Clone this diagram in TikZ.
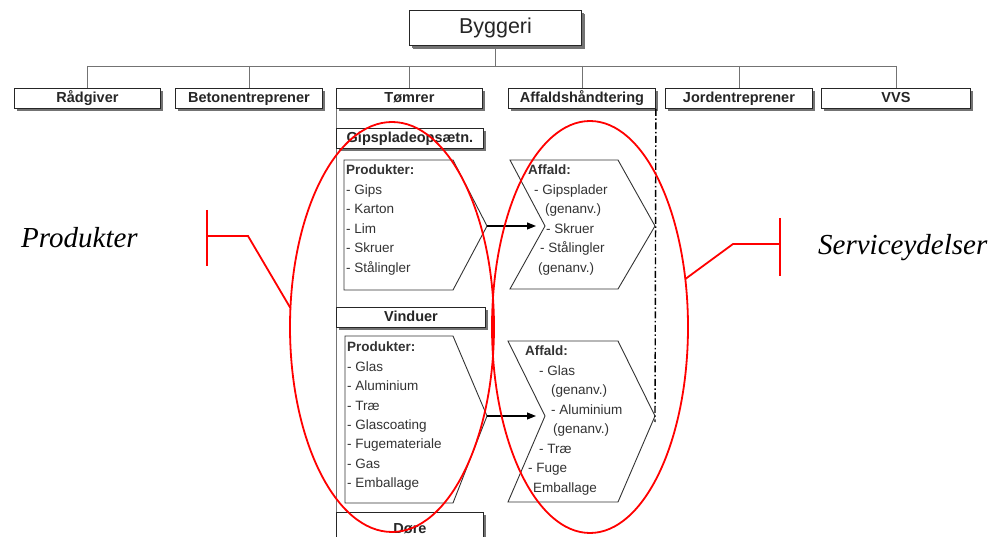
\documentclass[tikz,border=0pt]{standalone}
\usepackage{fontspec}
\setmainfont{Liberation Sans}
\newfontfamily\tagfont{Liberation Serif}
\usetikzlibrary{arrows.meta,shadows}

\begin{document}
\begin{tikzpicture}[x=1pt,y=-1pt,
  unit/.style={draw=black!85, line width=0.9pt, fill=white, inner sep=0pt,
    minimum height=20pt, anchor=north west, text height=11pt, text depth=3pt,
    font=\fontsize{14.5}{16}\selectfont\bfseries, text=black!85,
    drop shadow={shadow xshift=2.5pt, shadow yshift=-2.5pt, fill=black!55, opacity=1}},
  tree/.style={draw=black!55, line width=0.9pt},
  chev/.style={draw=black!80, line width=0.9pt},
  item/.style={anchor=base west, inner sep=0pt, text=black!80,
    font=\fontsize{13.5}{16}\selectfont},
  head/.style={item, font=\fontsize{13.5}{16}\selectfont\bfseries},
  flow/.style={draw=black, line width=1.1pt, -{Triangle[length=9pt,width=7pt]}},
  dashdot/.style={draw=black, line width=1.4pt,
    dash pattern=on 7pt off 2.5pt on 1.5pt off 2.5pt},
  ring/.style={draw=red, line width=1.8pt},
  redline/.style={draw=red, line width=1.8pt},
  tag/.style={anchor=base west, inner sep=0pt,
    font=\tagfont\itshape\fontsize{29}{32}\selectfont}]

\useasboundingbox (0,0) rectangle (997,537);
\fill[white] (0,0) rectangle (997,537);
\clip (0,0) rectangle (997,537);

% top of the hierarchy
\node[unit, minimum width=172pt, minimum height=35pt, text height=16pt, text depth=5pt,
  font=\fontsize{21.5}{24}\selectfont,
  drop shadow={shadow xshift=3.5pt, shadow yshift=-3.5pt, fill=black!55, opacity=1}]
  (byggeri) at (409,10) {Byggeri};

% second level
\node[unit, minimum width=146pt] (raad)    at (14,88)  {Rådgiver};
\node[unit, minimum width=147pt] (beton)   at (175,88) {Betonentreprener};
\node[unit, minimum width=146pt] (toemrer) at (336,88) {Tømrer};
\node[unit, minimum width=147pt] (affald)  at (508,88) {Affaldshåndtering};
\node[unit, minimum width=147pt] (jord)    at (665,88) {Jordentreprener};
\node[unit, minimum width=149pt] (vvs)     at (821,88) {VVS};

% tree connectors
\coordinate (bus) at (0,66);
\coordinate (bottom) at (0,545);
\draw[tree] (byggeri.south) -- (byggeri.south |- bus);
\draw[tree] (raad.north |- bus) -- (vvs.north |- bus);
\foreach \n in {raad,beton,toemrer,affald,jord,vvs}
  \draw[tree] (\n.north |- bus) -- (\n.north);
\draw[tree] (toemrer.south west) -- (toemrer.south west |- bottom);

% sub-units under Tømrer
\node[unit, minimum width=147pt] (gips)    at (336,128) {Gipspladeopsætn.};
\node[unit, minimum width=149pt] (vinduer) at (336,307) {Vinduer};
\node[unit, minimum width=147pt, minimum height=34pt] (doere) at (336,512) {Døre};

% products, plasterboard
\draw[chev] (344,160) coordinate (p1nw) -- (453,160) -- (487,226) coordinate (p1tip)
  -- (453,290) -- (344,290) -- cycle;
\node[head] (p1head) at (346,175) {Produkter:};
\foreach \t [count=\i] in {- Gips, - Karton, - Lim, - Skruer, - Stålingler}
  \node[item, name=p1l\i] at (346, 175+19.5*\i) {\t};

% waste, plasterboard
\draw[chev] (510,160) -- (618,160) -- (655,226) coordinate (a1tip)
  -- (618,289) -- (510,289) -- (545,226) coordinate (a1notch) -- cycle;
\node[head] (a1head) at (528,175) {Affald:};
\foreach \x/\t [count=\i] in {534/- Gipsplader, 545/{(genanv.)}, 546/- Skruer,
    540/- Stålingler, 538/{(genanv.)}}
  \node[item, name=a1l\i] at (\x, 175+19.5*\i) {\t};

% products, windows
\draw[chev] (345,336) coordinate (p2nw) -- (453,336) -- (487,416) coordinate (p2tip)
  -- (453,503) -- (345,503) -- cycle;
\node[head] (p2head) at (347,352) {Produkter:};
\foreach \t [count=\i] in {- Glas, - Aluminium, - Træ, - Glascoating,
    - Fugemateriale, - Gas, - Emballage}
  \node[item, name=p2l\i] at (347, 352+19.4*\i) {\t};

% waste, windows
\draw[chev] (508,341) -- (618,341) -- (655,416) coordinate (a2tip)
  -- (618,502) -- (508,502) -- (545,416) coordinate (a2notch) -- cycle;
\node[head] (a2head) at (525,356) {Affald:};
\foreach \x/\t [count=\i] in {539/- Glas, 551/{(genanv.)}, 551/- Aluminium,
    553/{(genanv.)}, 539/- Træ, 528/- Fuge, 533/Emballage}
  \node[item, name=a2l\i] at (\x, 356+19.5*\i) {\t};

% flows from products to waste
\draw[flow] (p1tip) -- ([xshift=-9pt]a1notch);
\draw[flow] (p2tip) -- ([xshift=-9pt]a2notch);

% boundary of the waste handling unit
\draw[dashdot] (affald.south east) -- ([yshift=-6pt]a2tip);

% grouping rings
\draw[ring] (392,327) ellipse [x radius=102pt, y radius=205pt];
\draw[ring] (590,327) ellipse [x radius=98pt, y radius=206pt];

% callouts
\coordinate (lt) at (207,210);
\coordinate (lb) at (207,266);
\coordinate (lmid) at (207,236);
\coordinate (lknee) at (248,236);
\coordinate (lhit) at (290.4,308);
\draw[redline] (lt) -- (lb);
\draw[redline] (lmid) -- (lknee) -- (lhit);
\node[tag] (lblprod) at (21,248) {Produkter};

\coordinate (rt) at (780,218);
\coordinate (rb) at (780,276);
\coordinate (rmid) at (780,244);
\coordinate (rknee) at (733,244);
\coordinate (rhit) at (685.3,279);
\draw[redline] (rt) -- (rb);
\draw[redline] (rmid) -- (rknee) -- (rhit);
\node[tag] (lblserv) at (818,255) {Serviceydelser};

\end{tikzpicture}
\end{document}
